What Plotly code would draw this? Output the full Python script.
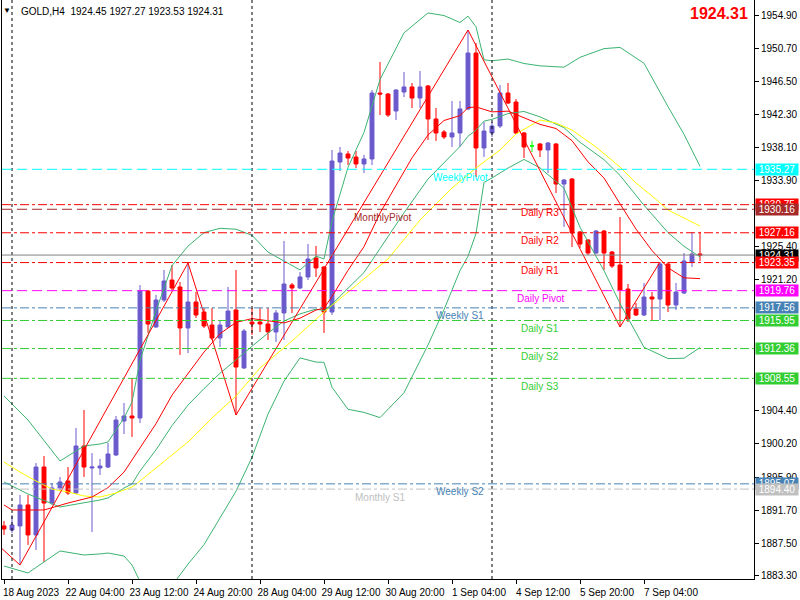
import plotly.graph_objects as go

# ---------------- data ----------------
bar_index = list(range(88))

open_p = [1889.69, 1889.17, 1889.69, 1892.37, 1888.54, 1897.22, 1892.62, 1894.54, 1895.43, 1893.90,
          1899.91, 1897.10, 1897.10, 1897.22, 1898.76, 1903.10, 1903.74, 1903.49, 1919.72, 1915.12,
          1918.57, 1921.12, 1920.23, 1914.99, 1918.31, 1917.03, 1915.37, 1913.71, 1915.12, 1917.29,
          1909.88, 1915.75, 1915.75, 1915.50, 1914.48, 1916.91, 1920.48, 1920.10, 1921.51, 1923.93,
          1922.78, 1917.03, 1936.20, 1937.23, 1936.84, 1935.95, 1936.59, 1945.02, 1944.89, 1942.72,
          1945.15, 1945.79, 1944.38, 1945.92, 1941.70, 1940.04, 1939.40, 1939.91, 1942.98, 1950.13,
          1937.99, 1939.91, 1940.80, 1945.02, 1943.87, 1939.91, 1938.25, 1938.50, 1937.74, 1938.50,
          1933.39, 1934.03, 1927.26, 1926.23, 1924.57, 1927.38, 1924.70, 1923.04, 1919.97, 1917.42,
          1916.65, 1918.95, 1918.69, 1923.17, 1917.93, 1919.46, 1923.42, 1924.45]
high_p = [1890.33, 1891.09, 1893.65, 1893.65, 1897.73, 1898.63, 1895.18, 1895.95, 1897.22, 1902.21,
          1904.51, 1899.01, 1898.25, 1900.29, 1903.74, 1905.40, 1908.60, 1920.48, 1919.84, 1919.21,
          1922.40, 1923.04, 1920.87, 1923.30, 1919.59, 1917.54, 1917.54, 1916.01, 1920.23, 1922.40,
          1914.86, 1917.54, 1917.54, 1917.54, 1917.29, 1926.11, 1920.74, 1922.14, 1925.72, 1925.47,
          1922.91, 1937.74, 1938.12, 1937.61, 1937.61, 1937.10, 1945.40, 1948.98, 1945.02, 1945.53,
          1947.70, 1946.30, 1947.83, 1946.04, 1943.10, 1940.29, 1944.00, 1944.00, 1953.07, 1951.41,
          1941.31, 1941.31, 1946.04, 1946.30, 1944.25, 1940.04, 1938.89, 1938.63, 1938.76, 1938.63,
          1934.03, 1934.16, 1927.38, 1926.36, 1927.51, 1927.51, 1924.83, 1929.17, 1920.61, 1918.18,
          1920.74, 1919.59, 1923.42, 1923.42, 1920.74, 1924.57, 1927.26, 1927.27]
low_p = [1888.54, 1888.79, 1884.70, 1887.26, 1886.62, 1885.08, 1892.37, 1894.28, 1893.65, 1893.77,
         1895.95, 1888.92, 1896.20, 1897.10, 1898.63, 1901.44, 1901.06, 1902.85, 1914.35, 1914.99,
         1918.31, 1919.84, 1911.54, 1911.79, 1916.27, 1914.99, 1913.45, 1912.56, 1914.99, 1903.87,
         1909.75, 1914.09, 1914.48, 1913.45, 1913.20, 1913.45, 1916.91, 1919.97, 1921.12, 1921.51,
         1914.35, 1916.65, 1935.05, 1935.82, 1935.44, 1934.80, 1935.82, 1942.21, 1941.95, 1941.57,
         1944.51, 1943.10, 1943.10, 1939.01, 1938.89, 1939.14, 1938.12, 1938.12, 1942.85, 1934.29,
         1936.84, 1939.40, 1940.55, 1943.61, 1939.78, 1936.71, 1937.48, 1936.84, 1934.80, 1932.24,
         1927.90, 1925.34, 1925.21, 1924.32, 1924.44, 1922.40, 1922.66, 1915.12, 1915.75, 1916.52,
         1916.52, 1916.01, 1916.01, 1917.03, 1917.29, 1919.33, 1922.78, 1923.53]
close_p = [1889.30, 1889.81, 1892.37, 1888.54, 1897.22, 1892.62, 1894.54, 1895.31, 1893.90, 1899.91,
           1897.22, 1897.22, 1897.35, 1898.89, 1903.23, 1903.74, 1903.49, 1919.72, 1915.50, 1918.57,
           1920.99, 1920.10, 1914.99, 1918.31, 1916.65, 1915.24, 1913.71, 1915.37, 1917.16, 1910.00,
           1914.60, 1915.50, 1915.50, 1914.48, 1916.91, 1920.61, 1920.10, 1921.51, 1923.81, 1922.66,
           1917.03, 1936.33, 1937.35, 1936.71, 1935.95, 1936.59, 1945.02, 1944.89, 1942.21, 1945.40,
           1945.79, 1944.38, 1945.79, 1941.70, 1939.91, 1939.40, 1939.91, 1942.98, 1950.13, 1937.99,
           1940.16, 1940.80, 1945.02, 1943.74, 1939.91, 1938.12, 1938.25, 1937.74, 1938.63, 1933.39,
           1933.90, 1927.13, 1925.72, 1924.57, 1927.38, 1924.57, 1922.91, 1919.84, 1916.14, 1916.65,
           1918.95, 1918.69, 1923.17, 1917.93, 1919.59, 1923.55, 1924.44, 1924.31]

tick_bars = [0, 8, 16, 24, 32, 40, 48, 56, 64, 72, 80]
tick_labels = ["18 Aug 2023", "22 Aug 04:00", "23 Aug 12:00", "24 Aug 20:00", "28 Aug 04:00",
               "29 Aug 12:00", "30 Aug 20:00", "1 Sep 04:00", "4 Sep 12:00", "5 Sep 20:00", "7 Sep 04:00"]
price_ticks = [1954.90, 1950.70, 1946.50, 1942.30, 1938.10, 1933.90, 1925.40, 1921.20,
               1904.40, 1900.20, 1895.90, 1891.70, 1887.50, 1883.30]
week_start_bars = [1, 31, 61]

# fast moving average (red)
ma_fast_bars = [0, 1, 5, 8, 11, 13, 15, 17, 19, 21, 23, 25, 27, 29, 31, 33, 35, 37, 39, 40, 41,
                43, 45, 47, 49, 51, 53, 55, 57, 58, 59, 61, 63, 65, 67, 69, 71, 73, 75, 77, 79, 81,
                83, 85, 87]
ma_fast_vals = [1892.37, 1891.73, 1891.73, 1892.62, 1893.39, 1894.59, 1896.57, 1899.60, 1902.76,
                1906.41, 1909.24, 1911.91, 1914.26, 1915.70, 1916.19, 1915.90, 1915.64, 1916.24,
                1917.28, 1917.52, 1919.01, 1922.36, 1925.39, 1929.67, 1933.25, 1936.73, 1939.65,
                1941.51, 1942.13, 1943.15, 1943.24, 1942.61, 1942.70, 1941.83, 1941.01, 1940.48,
                1938.93, 1936.22, 1934.15, 1930.86, 1927.63, 1924.89, 1922.68, 1921.40, 1921.30]

# slow moving average (yellow)
ma_slow_bars = [0, 2, 4, 6, 8, 10, 12, 14, 16, 17, 19, 23, 26, 29, 32, 36, 40, 44, 48, 52, 56, 59,
                62, 64, 67, 69, 71, 74, 77, 79, 81, 83, 85, 87]
ma_slow_vals = [1897.86, 1896.58, 1895.43, 1894.41, 1894.03, 1893.52, 1893.39, 1893.90, 1894.67,
                1895.43, 1897.10, 1900.42, 1903.49, 1906.30, 1909.88, 1913.33, 1917.03, 1920.36,
                1923.81, 1928.79, 1932.88, 1935.44, 1937.74, 1939.78, 1941.57, 1941.19, 1940.29,
                1938.12, 1935.56, 1933.52, 1931.86, 1930.07, 1929.05, 1928.02]

# Bollinger bands
bb_bars = [0, 3, 7, 10, 12, 13, 15, 16, 17, 19, 21, 23, 25, 27, 29, 31, 33, 35, 37, 39, 40, 41, 43,
           45, 47, 50, 53, 55, 57, 58, 59, 60, 61, 63, 65, 67, 70, 72, 75, 77, 80, 83, 85, 87]
bb_mid = [1895.31, 1893.77, 1892.11, 1892.62, 1893.01, 1893.26, 1894.54, 1895.05, 1896.71, 1899.42,
          1902.51, 1905.13, 1907.24, 1909.20, 1910.87, 1912.65, 1914.34, 1915.87, 1916.79, 1917.40,
          1917.21, 1918.02, 1920.06, 1922.09, 1925.14, 1929.71, 1934.03, 1936.13, 1938.18, 1939.50,
          1940.27, 1941.43, 1941.65, 1942.39, 1942.66, 1941.97, 1940.59, 1938.72, 1936.50, 1934.49,
          1930.67, 1927.18, 1925.43, 1924.07]
bb_upper = [1906.30, 1903.23, 1897.99, 1899.91, 1900.16, 1900.42, 1903.49, 1905.53, 1910.83, 1917.18,
            1922.96, 1925.45, 1927.18, 1927.73, 1927.61, 1926.84, 1924.69, 1923.54, 1922.41, 1924.17,
            1923.82, 1928.63, 1935.52, 1939.98, 1946.74, 1952.71, 1955.25, 1954.92, 1954.03, 1954.84,
            1953.49, 1949.26, 1949.14, 1949.36, 1948.79, 1948.49, 1948.32, 1949.58, 1950.69, 1950.85,
            1948.82, 1943.28, 1939.74, 1935.65]
bb_lower = [1884.57, 1883.68, 1886.49, 1885.98, 1886.11, 1886.23, 1885.85, 1884.70, 1882.59, 1881.66,
            1882.06, 1884.81, 1887.30, 1890.67, 1894.13, 1898.46, 1903.99, 1908.20, 1911.17, 1910.63,
            1910.60, 1907.41, 1904.60, 1904.20, 1903.54, 1906.71, 1912.82, 1917.34, 1922.33, 1924.16,
            1927.06, 1933.60, 1934.16, 1935.43, 1936.53, 1935.45, 1932.86, 1927.86, 1922.31, 1918.13,
            1912.52, 1911.08, 1911.12, 1912.49]

# ZigZag turning points
zigzag_bars = [-2, 2, 23, 29, 58, 77, 82]
zigzag_vals = [1888.40, 1884.70, 1923.30, 1903.87, 1953.07, 1915.12, 1923.42]

# pivot levels
level_names = ["Daily R3", "MonthlyPivot", "Daily R2", "Daily R1", "Daily Pivot", "Weekly S1",
               "Daily S1", "Daily S2", "Daily S3", "Weekly S2", "Monthly S1", "WeeklyPivot"]
level_values = [1930.75, 1930.16, 1927.16, 1923.35, 1919.76, 1917.56, 1915.95, 1912.36, 1908.55,
                1895.07, 1894.40, 1935.27]

symbol_text = "GOLD,H4"

# ---------------- styles ----------------
BULL = "#6A5ACD"
BEAR = "#FF0000"
DOJI = "#00FF00"
BB_COLOR = "#3CB371"
FONT = "Liberation Sans"
DASHDOT = "9px,3px,3px,3px"
LONGDASH = "10px,5px"
level_style = {
    "Daily R3": ("#FF0000", DASHDOT, 67),
    "Daily R2": ("#FF0000", DASHDOT, 67),
    "Daily R1": ("#FF0000", DASHDOT, 67),
    "Daily Pivot": ("#FF00FF", LONGDASH, 67),
    "Daily S1": ("#32CD32", DASHDOT, 67),
    "Daily S2": ("#32CD32", DASHDOT, 67),
    "Daily S3": ("#32CD32", DASHDOT, 67),
    "WeeklyPivot": ("#00FFFF", LONGDASH, 57),
    "Weekly S1": ("#4682B4", DASHDOT, 57),
    "Weekly S2": ("#4682B4", DASHDOT, 57),
    "MonthlyPivot": ("#A52A2A", LONGDASH, 47.3),
    "Monthly S1": ("#C0C0C0", DASHDOT, 47),
}

fig = go.Figure()

regular = [i for i in bar_index if open_p[i] != close_p[i]]
dojis = [i for i in bar_index if open_p[i] == close_p[i]]

fig.add_trace(go.Candlestick(
    x=[bar_index[i] for i in regular],
    open=[open_p[i] for i in regular], high=[high_p[i] for i in regular],
    low=[low_p[i] for i in regular], close=[close_p[i] for i in regular],
    increasing=dict(line=dict(color=BULL, width=1), fillcolor=BULL),
    decreasing=dict(line=dict(color=BEAR, width=1), fillcolor=BEAR),
    whiskerwidth=0, showlegend=False, hoverinfo="skip"))
if dojis:
    fig.add_trace(go.Candlestick(
        x=[bar_index[i] for i in dojis],
        open=[open_p[i] for i in dojis], high=[high_p[i] for i in dojis],
        low=[low_p[i] for i in dojis], close=[close_p[i] for i in dojis],
        increasing=dict(line=dict(color=DOJI, width=1), fillcolor=DOJI),
        decreasing=dict(line=dict(color=DOJI, width=1), fillcolor=DOJI),
        whiskerwidth=0, showlegend=False, hoverinfo="skip"))

for vals in (bb_upper, bb_mid, bb_lower):
    fig.add_trace(go.Scatter(x=bb_bars, y=vals, mode="lines",
                             line=dict(color=BB_COLOR, width=1), showlegend=False, hoverinfo="skip"))
fig.add_trace(go.Scatter(x=ma_slow_bars, y=ma_slow_vals, mode="lines",
                         line=dict(color="#FFFF00", width=1), showlegend=False, hoverinfo="skip"))
fig.add_trace(go.Scatter(x=ma_fast_bars, y=ma_fast_vals, mode="lines",
                         line=dict(color="#FF0000", width=1), showlegend=False, hoverinfo="skip"))
fig.add_trace(go.Scatter(x=zigzag_bars, y=zigzag_vals, mode="lines",
                         line=dict(color="#FF0000", width=1), showlegend=False, hoverinfo="skip"))

shapes = []
annotations = []

# weekly separators
for b in week_start_bars:
    shapes.append(dict(type="line", xref="x", yref="paper", x0=b, x1=b, y0=0, y1=1,
                       line=dict(color="black", width=1, dash="3px,3px"), layer="above"))

# bid line
last_close = close_p[-1]
shapes.append(dict(type="line", xref="paper", yref="y", x0=0, x1=1, y0=last_close, y1=last_close,
                   line=dict(color="#808080", width=1), layer="above"))

# pivot level lines and labels
for name, val in zip(level_names, level_values):
    col, dash, lx = level_style[name]
    shapes.append(dict(type="line", xref="paper", yref="y", x0=0, x1=1, y0=val, y1=val,
                       line=dict(color=col, width=1, dash=dash), layer="above"))
    annotations.append(dict(x=lx, y=val, xref="x", yref="y", text=name, showarrow=False,
                            xanchor="center", yanchor="middle", yshift=-8,
                            font=dict(family=FONT, size=10, color=col)))

# price boxes on the right axis
box_order = ["Daily R3", "MonthlyPivot", "Daily R2", "BID", "Daily R1", "Daily Pivot", "Weekly S1",
             "Daily S1", "Daily S2", "Daily S3", "Weekly S2", "Monthly S1", "WeeklyPivot"]
for name in box_order:
    if name == "BID":
        val, col = last_close, "#000000"
    else:
        val = level_values[level_names.index(name)]
        col = level_style[name][0]
    annotations.append(dict(x=1, y=val, xref="paper", yref="y", text=f"{val:.2f}", showarrow=False,
                            xanchor="left", yanchor="middle", xshift=1, bgcolor=col,
                            width=40, height=9, borderpad=1, align="center",
                            font=dict(family=FONT, size=10, color="white")))

# header texts
annotations.append(dict(x=0.006, y=0.982, xref="paper", yref="paper", text="▼", showarrow=False,
                        xanchor="center", yanchor="middle", font=dict(family=FONT, size=8, color="black")))
header = f"{symbol_text}  {open_p[-1]:.2f} {high_p[-1]:.2f} {low_p[-1]:.2f} {close_p[-1]:.2f}"
annotations.append(dict(x=0.0226, y=0.981, xref="paper", yref="paper", text=header, showarrow=False,
                        xanchor="left", yanchor="middle", font=dict(family=FONT, size=10, color="black")))
annotations.append(dict(x=0.9947, y=0.976, xref="paper", yref="paper", text=f"<b>{close_p[-1]:.2f}</b>",
                        showarrow=False, xanchor="right", yanchor="middle",
                        font=dict(family=FONT, size=16, color="#FF0000")))

fig.update_layout(
    width=800, height=600,
    margin=dict(l=2, r=46, t=0, b=21),
    paper_bgcolor="white", plot_bgcolor="white",
    showlegend=False,
    shapes=shapes, annotations=annotations,
    xaxis=dict(range=[-0.25, 93.75], tickmode="array", tickvals=tick_bars, ticktext=tick_labels,
               ticks="outside", ticklen=4, tickcolor="black", showline=True, linecolor="black",
               linewidth=1, showgrid=False, zeroline=False, rangeslider=dict(visible=False),
               ticklabelshift=27, tickfont=dict(family=FONT, size=10, color="black")),
    yaxis=dict(side="right", range=[1882.91, 1956.906], tickmode="array", tickvals=price_ticks,
               ticktext=[f"{v:.2f}" for v in price_ticks], ticks="outside", ticklen=4,
               tickcolor="black", showline=True, mirror=True, linecolor="black", linewidth=1,
               showgrid=False, zeroline=False, tickfont=dict(family=FONT, size=10, color="black")),
)

fig.write_html("out.html", config={"displayModeBar": False},
               post_script="document.body.style.margin='0';document.body.style.overflow='hidden';")
